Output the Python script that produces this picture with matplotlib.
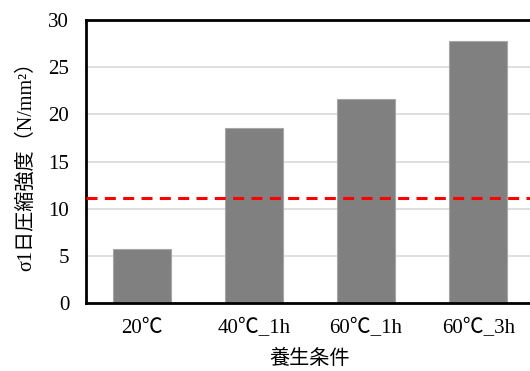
import matplotlib.pyplot as plt

# データ
conditions = ['20℃', '40℃_1h', '60℃_1h', '60℃_3h']
strength = [5.8, 18.6, 21.6, 27.7]
target = 11.2

plt.rcParams['font.family'] = ['Liberation Serif', 'Noto Sans CJK JP']

fig = plt.figure(figsize=(5.3, 3.71), dpi=100)
ax = fig.add_axes([0.162, 0.182, 0.846, 0.765])

ax.bar(range(len(conditions)), strength, width=0.52,
       color='#808080', edgecolor='#a6a6a6', linewidth=0.8, zorder=2)
ax.axhline(target, color='#ff0000', linewidth=2.2, linestyle=(0, (3.6, 2.4)), zorder=3)

ax.set_xlim(-0.5, 3.5)
ax.set_ylim(0, 30)
ax.set_yticks(range(0, 31, 5))
ax.set_xticks(range(len(conditions)))
ax.set_xticklabels(conditions)
ax.tick_params(axis='y', length=0, labelsize=15, pad=12)
ax.tick_params(axis='x', length=0, labelsize=15, pad=11)
ax.yaxis.grid(True, color='#d9d9d9', linewidth=1.2, zorder=0)
ax.set_axisbelow(True)

for s in ['left', 'bottom', 'top']:
    ax.spines[s].set_linewidth(2)
    ax.spines[s].set_color('black')
ax.spines['right'].set_visible(False)

ax.set_ylabel('σ1日圧縮強度（N/mm²）', fontsize=14.5, labelpad=9)
ax.set_xlabel('養生条件', fontsize=14.5, labelpad=9)

fig.savefig('out.png', dpi=100)
